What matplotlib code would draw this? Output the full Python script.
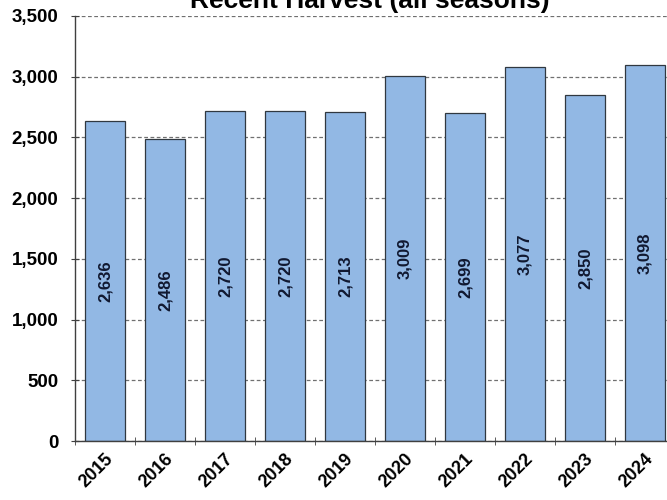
import numpy as np
import matplotlib
matplotlib.use('Agg')
import matplotlib.pyplot as plt
from matplotlib.ticker import FuncFormatter, FixedLocator

years = ['2015', '2016', '2017', '2018', '2019', '2020', '2021', '2022', '2023', '2024']
harvest = [2636, 2486, 2720, 2720, 2713, 3009, 2699, 3077, 2850, 3098]
title = 'Recent Harvest (all seasons)'

plt.rcParams['font.family'] = ['Liberation Sans', 'DejaVu Sans']
plt.rcParams['font.weight'] = 'bold'

size = 667, 500
dpi = 100.0
fig = plt.figure(figsize=(size[0]/dpi, size[1]/dpi), dpi=dpi)
ax = fig.add_axes([75/667., 59/500., 600/667., 425/500.])

x = np.arange(len(years))
ax.set_axisbelow(True)
ax.yaxis.grid(True, linestyle=(0, (3, 2)), color='#707070', linewidth=0.9)
bars = ax.bar(x, harvest, width=0.66, color='#92b8e4', edgecolor='#303840', linewidth=0.9)
for xi, v in zip(x, harvest):
    ax.text(xi, v/2., '{:,}'.format(v), rotation=90, ha='center', va='center',
            fontsize=12, fontweight='bold', color='#101830')

ax.set_xlim(-0.5, len(years) - 0.5)
ax.set_ylim(0, 3500)
ax.set_yticks(np.arange(0, 3501, 500))
ax.yaxis.set_major_formatter(FuncFormatter(lambda v, p: '{:,}'.format(int(v))))
ax.set_xticks(x)
ax.set_xticklabels(years, rotation=45, ha='right', rotation_mode='anchor')
ax.xaxis.set_minor_locator(FixedLocator(np.arange(-0.5, len(years), 1)))
ax.tick_params(axis='x', which='major', length=0, labelsize=13, pad=7)
ax.tick_params(axis='x', which='minor', length=6, direction='inout', color='#404040')
ax.tick_params(axis='y', length=6, direction='inout', labelsize=13.5, color='#404040', pad=9)
for s in ['top', 'right']:
    ax.spines[s].set_visible(False)
for s in ['left', 'bottom']:
    ax.spines[s].set_color('#404040')
    ax.spines[s].set_linewidth(1.0)

fig.text(370/667., 0.984, title, ha='center', va='baseline', fontsize=19, fontweight='bold')
fig.savefig('out.png', dpi=dpi)
